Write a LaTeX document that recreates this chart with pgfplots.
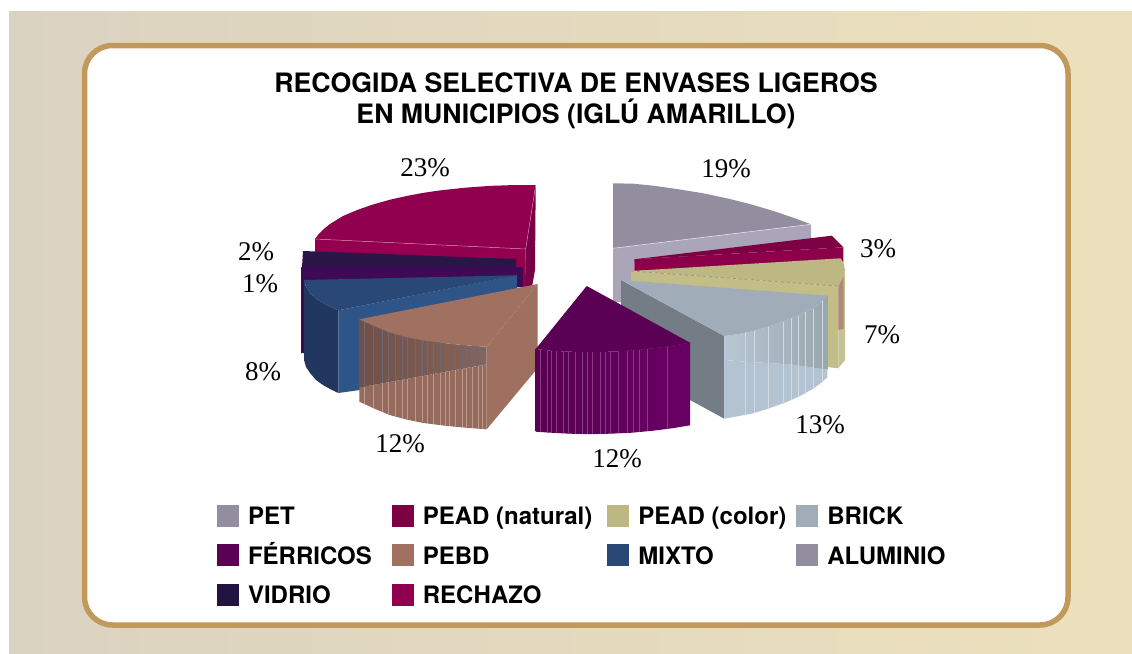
\documentclass[border=0pt]{standalone}
\usepackage{pgfplots}
\pgfplotsset{compat=1.18}
\usepackage{fontspec}
\setmainfont{TeX Gyre Heros}
\newfontfamily\pctfont{Liberation Serif}
\definecolor{bgL}{HTML}{DBD3C1}
\definecolor{bgR}{HTML}{ECE0BC}
\definecolor{frame}{HTML}{C19A5B}
\definecolor{cPET}{HTML}{928D9F}
\definecolor{cPETf}{HTML}{AAA5B8}
\definecolor{cNAT}{HTML}{7E0044}
\definecolor{cNATf}{HTML}{8C004A}
\definecolor{cCOL}{HTML}{BCB783}
\definecolor{cCOLf}{HTML}{C3BD87}
\definecolor{cBRI}{HTML}{A0ACB8}
\definecolor{cBRIc}{HTML}{747C86}
\definecolor{cBRIo}{HTML}{B4C3D2}
\definecolor{cFER}{HTML}{5A0055}
\definecolor{cPEB}{HTML}{A07060}
\definecolor{cMIX}{HTML}{2A4876}
\definecolor{cMIXf}{HTML}{2F5488}
\definecolor{cMIXd}{HTML}{21375F}
\definecolor{cALU}{HTML}{3F0A55}
\definecolor{cVID}{HTML}{231340}
\definecolor{cVIDf}{HTML}{2A1448}
\definecolor{cREC}{HTML}{90004E}
\definecolor{cRECd}{HTML}{7A0045}
\definecolor{B08A78}{HTML}{B08A78}
\definecolor{B9C7D6}{HTML}{B9C7D6}
\definecolor{9AA6AC}{HTML}{9AA6AC}
\definecolor{D0DAE5}{HTML}{D0DAE5}
\definecolor{94004F}{HTML}{94004F}
\definecolor{D080A0}{HTML}{D080A0}
\definecolor{9F6F60}{HTML}{9F6F60}
\definecolor{956B5D}{HTML}{956B5D}
\definecolor{6F5048}{HTML}{6F5048}
\definecolor{86645A}{HTML}{86645A}
\definecolor{6F6870}{HTML}{6F6870}
\definecolor{BF9A8C}{HTML}{BF9A8C}
\definecolor{580052}{HTML}{580052}
\definecolor{6A0064}{HTML}{6A0064}
\definecolor{8A3A85}{HTML}{8A3A85}
\begin{document}
\begin{tikzpicture}
\begin{axis}[
  width=1132pt, height=653pt, scale only axis,
  xmin=0, xmax=1132, ymin=0, ymax=653, y dir=reverse,
  hide axis, clip=false,
  unbounded coords=jump,
  every axis plot/.append style={forget plot},
  legend columns=4,
  legend cell align=left,
  legend image code/.code={\fill[#1,draw=none] (0pt,-8.4pt) rectangle (22pt,13.6pt);},
  legend style={
    at={(0.1917,0.2282)}, anchor=north west, draw=none, fill=none,
    inner sep=0pt, outer sep=0pt,
    font=\fontsize{24}{24}\selectfont\bfseries,
    nodes={text height=19pt,text depth=6pt},
    /tikz/row sep=10.5pt,
    /tikz/column 1/.style={column sep=7pt},
    /tikz/column 2/.style={column sep=18pt},
    /tikz/column 3/.style={column sep=7pt},
    /tikz/column 4/.style={column sep=13pt},
    /tikz/column 5/.style={column sep=7pt},
    /tikz/column 6/.style={column sep=8pt},
    /tikz/column 7/.style={column sep=7pt},
  },
]
\addlegendimage{fill=cPET}
\addlegendimage{fill=cNAT}
\addlegendimage{fill=cCOL}
\addlegendimage{fill=cBRI}
\addlegendimage{fill=cFER}
\addlegendimage{fill=cPEB}
\addlegendimage{fill=cMIX}
\addlegendimage{fill=cPET}
\addlegendimage{fill=cVID}
\addlegendimage{fill=cREC}
\legend{PET,PEAD (natural),PEAD (color),BRICK,FÉRRICOS,PEBD,MIXTO,ALUMINIO,VIDRIO,RECHAZO}

% page and panel
\addplot[fill=white,draw=none] coordinates {(0,0)(1132,0)(1132,653)(0,653)};
\addplot[draw=none,left color=bgL,right color=bgR] coordinates {(9,11)(1132,11)(1132,653)(9,653)};
\addplot[fill=white,draw=frame,line width=5.5pt,rounded corners=28pt] coordinates {(84.5,45.5)(1068,45.5)(1068,625)(84.5,625)} -- cycle;

% PET
\addplot[fill=cPETf,draw=none] coordinates {(613,248.3)(811,224.3)(811,245)(634,262)(634,272)(631,272)(631,283)(621,283)(621,302)(613,302)};
\addplot[fill=cPET,draw=none] coordinates {(613,183.3)(633.3,183.7)(653.3,185.7)(676.7,189)(703.3,193.3)(730,199)(753.3,205)(773.3,211)(793.3,217.7)(811,224.3)(613,248.3)};
\addplot[draw=white!80!cPET,line width=0.5pt] coordinates {(613,248.3)(811,224.3)};
% PEAD natural
\addplot[fill=cNAT,draw=none] coordinates {(634.3,259.3)(831.7,235.7)(843.3,247.3)};
\addplot[fill=cNATf,draw=none] coordinates {(634.3,259.3)(843.3,247.3)(843.3,262)(634.3,271)};
% PEAD colour
\addplot[fill=cCOLf,draw=none] coordinates {(631,271)(838.3,286)(838.3,298)(827,298)(631,283)};
\addplot[fill=cCOLf,draw=none] coordinates {(827.3,295)(838.3,286)(838.3,368.3)(827.3,367)};
\addplot[fill=cCOL!85!white,draw=none] coordinates {(838.3,286)(843,276)(845,270)(845,360)(838.3,368.3)};
\addplot[fill=B08A78,draw=none] coordinates {(838.3,286)(843.5,276)(843.5,329)(838.3,330)};
\addplot[fill=cCOL,draw=none] coordinates {(631,271)(840.7,258.3)(843.5,263)(845,270)(842.5,278)(838.3,286)};
\addplot[draw=B08A78,dashed,line width=0.7pt] coordinates {(631,271)(838.3,286)};
% BRICK
\addplot[fill=cBRIc,draw=none] coordinates {(621,280)(724.3,336)(724.3,418.7)(690,400)(621,365)};
\addplot[fill=cBRIo,draw=none] coordinates {(724.3,360)(745,361.7)(790,364.3)(827.3,369.7)(827.3,377.3)(821,383)(813.3,388.5)(800,396)(786.7,402)(770,408)(753.3,413.3)(739,416)(724.3,418.7)};
\addplot[draw=none,left color=B9C7D6,right color=9AA6AC] coordinates {(724.3,336)(739,334)(753.3,331)(770,326)(786.7,320)(800,314.5)(813.3,308)(821,302)(827.3,295.7)(827.3,369.7)(790,364.3)(745,361.7)(724.3,360)};
\addplot[draw=D0DAE5,line width=0.5pt] coordinates {
 (745,332.5)(745,415)(745,nan)
 (754,331)(754,413)(754,nan)
 (768,326.5)(768,408.5)(768,nan)
 (783,321.5)(783,403.5)(783,nan)
 (791,318)(791,400)(791,nan)
 (798,315.5)(798,397)(798,nan)
 (805,312)(805,394)(805,nan)
 (813,308.5)(813,388.5)(813,nan)
 (822,301)(822,381)};
\addplot[fill=cBRI,draw=none] coordinates {(621,280)(827.3,295.7)(821,302)(813.3,308)(800,314.5)(786.7,320)(770,326)(753.3,331)(739,334)(724.3,336)};
% RECHAZO
\addplot[fill=cRECd,draw=none] coordinates {(535.7,185)(525.7,249)(525,287)(532,287)(535,270)};
\addplot[fill=94004F,draw=none] coordinates {(315,239)(525.7,249)(525.7,287)(517,287)(517,270)(315,268)};
\addplot[fill=cREC,draw=none] coordinates {(315,239)(318,235)(323,229.7)(330,224)(343,216)(358,209.7)(373,204.5)(390,199.7)(407,195.9)(423,192.9)(440,190.4)(465,187.7)(490,185.9)(515,185)(535.7,185)(525.7,249)};
\addplot[draw=D080A0,line width=0.5pt] coordinates {(315,239)(525.7,249)(535.7,185)};
% VIDRIO
\addplot[fill=cVIDf,draw=none] coordinates {(303,251)(516,259)(516,268)(302,267)};
% 1 %
\addplot[fill=cALU,draw=none] coordinates {(301,267)(523,267)(523,287)(517,287)(517,278)(304,282)(304,353)(301,353)};
% MIXTO
\addplot[fill=cMIXd,draw=none] coordinates {(304,280)(304,360)(306,367)(310,373)(316,380)(323,385)(331,389.5)(338.3,393)(338.3,310.3)(331,307)(323,303)(316,298.5)(310,293)(306,287)};
\addplot[fill=cMIXf,draw=none] coordinates {(338.3,310.3)(517,275)(517,300)(360,390)(338.3,393)};
\addplot[fill=cMIX,draw=none] coordinates {(304,280)(516.7,275.3)(338.3,310.3)(331,307)(323,303)(316,298.5)(310,293)(306,287)};
% PEBD
\addplot[fill=9F6F60,draw=none] coordinates {(486.7,346.7)(537.7,284)(537.7,368)(486.7,429.3)};
\addplot[fill=956B5D,draw=none] coordinates {(359.3,380)(364,386.7)(486.7,364.3)(486.7,429.3)(472,428.2)(457,426.9)(440,425.1)(423,422.9)(406,419.4)(390,415.1)(375,408.9)(359.3,401.7)};
\addplot[draw=none,left color=6F5048,right color=86645A] coordinates {(359.3,319.3)(375,326.5)(390,332.7)(406,337)(423,340.5)(440,342.7)(457,344.5)(472,345.8)(486.7,346.7)(486.7,364.3)(364,386.7)(359.3,387.5)};
\addplot[draw=6F6870,line width=0.6pt] coordinates {
 (364,322)(364,386.7)(364,nan)
 (373,326)(373,385)(373,nan)
 (382,330)(382,383.4)(382,nan)
 (388,332)(388,382.3)(388,nan)
 (395,334)(395,381)(395,nan)
 (402,336)(402,379.8)(402,nan)
 (407,337)(407,378.9)(407,nan)
 (415,338.5)(415,377.4)(415,nan)
 (422,340)(422,376.1)(422,nan)
 (427,341)(427,375.2)(427,nan)
 (433,341.5)(433,374.1)(433,nan)
 (440,342.5)(440,372.8)(440,nan)
 (445,343)(445,371.9)(445,nan)
 (449,343.5)(449,371.2)(449,nan)
 (455,344)(455,370.1)(455,nan)
 (462,344.5)(462,368.8)(462,nan)
 (466,345)(466,368.1)(466,nan)
 (472,345.5)(472,367)(472,nan)
 (478,346)(478,365.9)(478,nan)
 (482,346.5)(482,365.2)};
\addplot[draw=BF9A8C,line width=0.6pt] coordinates {
 (364,386.7)(364,404.4)(364,nan)
 (373,385)(373,408.4)(373,nan)
 (382,383.4)(382,412.4)(382,nan)
 (388,382.3)(388,414.4)(388,nan)
 (395,381)(395,416.4)(395,nan)
 (402,379.8)(402,418.4)(402,nan)
 (407,378.9)(407,419.4)(407,nan)
 (415,377.4)(415,420.9)(415,nan)
 (422,376.1)(422,422.4)(422,nan)
 (427,375.2)(427,423.4)(427,nan)
 (433,374.1)(433,423.9)(433,nan)
 (440,372.8)(440,424.9)(440,nan)
 (445,371.9)(445,425.4)(445,nan)
 (449,371.2)(449,425.9)(449,nan)
 (455,370.1)(455,426.4)(455,nan)
 (462,368.8)(462,426.9)(462,nan)
 (466,368.1)(466,427.4)(466,nan)
 (472,367)(472,427.9)(472,nan)
 (478,365.9)(478,428.4)(478,nan)
 (482,365.2)(482,428.9)};
\addplot[fill=cPEB,draw=none] coordinates {(359.3,319.3)(537.7,284)(486.7,346.7)(472,345.8)(457,344.5)(440,342.7)(423,340.5)(406,337)(390,332.7)(375,326.5)};
% FERRICOS
\addplot[draw=none,left color=580052,right color=6A0064] coordinates {(535.7,349)(552,350.8)(570,351.7)(590,352.2)(610,351.7)(632,350.5)(653,348.3)(672,345.8)(690,342.7)(690,425.3)(672,428.3)(653,430.7)(632,432.7)(610,433.7)(590,434.2)(570,433.7)(552,432.8)(535.7,431.7)};
\addplot[draw=8A3A85,line width=0.6pt] coordinates {
 (540,349.5)(540,432)(540,nan)
 (547,350)(547,432.5)(547,nan)
 (551,350.3)(551,432.8)(551,nan)
 (556,350.7)(556,433)(556,nan)
 (563,351.2)(563,433.4)(563,nan)
 (568,351.5)(568,433.6)(568,nan)
 (575,351.8)(575,433.8)(575,nan)
 (582,352)(582,434)(582,nan)
 (587,352)(587,434)(587,nan)
 (592,352)(592,434)(592,nan)
 (600,351.8)(600,433.8)(600,nan)
 (605,351.8)(605,433.8)(605,nan)
 (610,351.7)(610,433.7)(610,nan)
 (618,351)(618,433)(618,nan)
 (627,350.5)(627,432.5)(627,nan)
 (633,350)(633,432)(633,nan)
 (639,349.5)(639,431.5)(639,nan)
 (647,349)(647,431)(647,nan)
 (667,346.5)(667,428.5)};
\addplot[fill=cFER,draw=none] coordinates {(586.7,286)(690,342.7)(672,345.8)(653,348.3)(632,350.5)(610,351.7)(590,352.2)(570,351.7)(552,350.8)(535.7,349)};

% title
\node[align=center,font=\fontsize{26.7}{31}\selectfont\bfseries] at (axis cs:576,100.5)
  {RECOGIDA SELECTIVA DE ENVASES LIGEROS\\EN MUNICIPIOS (IGLÚ AMARILLO)};
% percentages
\tikzset{pct/.style={font=\pctfont\fontsize{27}{27}\selectfont,inner sep=0pt}}
\node[pct] at (axis cs:425,168) {23\%};
\node[pct] at (axis cs:726,169) {19\%};
\node[pct] at (axis cs:878,249) {3\%};
\node[pct] at (axis cs:882,335) {7\%};
\node[pct] at (axis cs:820,425) {13\%};
\node[pct] at (axis cs:617,459) {12\%};
\node[pct] at (axis cs:400,444) {12\%};
\node[pct] at (axis cs:263,372) {8\%};
\node[pct] at (axis cs:260,284) {1\%};
\node[pct] at (axis cs:256,252) {2\%};
\end{axis}
\end{tikzpicture}
\end{document}
